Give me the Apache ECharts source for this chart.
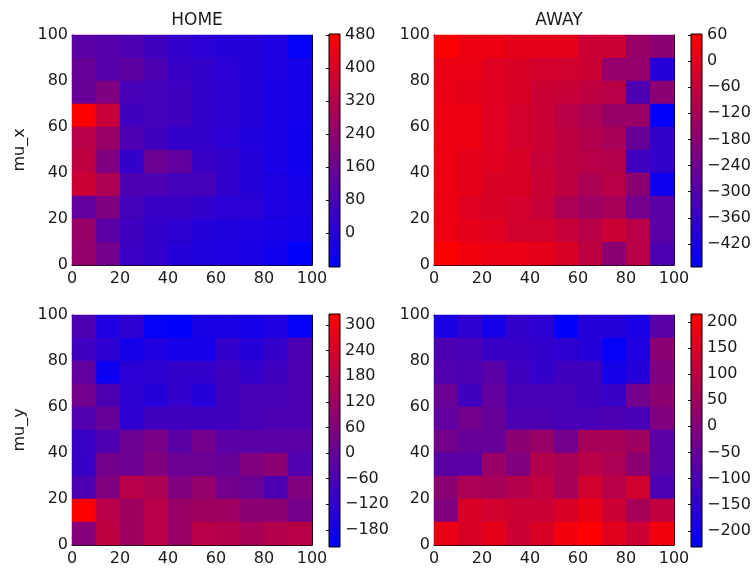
<!DOCTYPE html>
<html>
<head>
<meta charset="utf-8">
<script src="https://cdn.jsdelivr.net/npm/echarts@6/dist/echarts.min.js"></script>
<style>html,body{margin:0;padding:0;background:#fff}#c{width:756px;height:570px}</style>
</head>
<body>
<div id="c"></div>
<script>
// cell bins along each axis (0-10, 10-20, ... 90-100)
const cells = ['0','1','2','3','4','5','6','7','8','9'];
const axisTicks = [0, 20, 40, 60, 80, 100];
const panelTitles = ['HOME', 'AWAY'];
const rowNames = ['mu_x', 'mu_y'];

// rows listed top (90-100) to bottom (0-10), columns x 0-10 ... 90-100
const homeMuX = [
  [116, 104, 88, 59, 31, 14, 3, 3, -14, -71],
  [144, 104, 127, 88, 42, 31, 14, -3, -14, -37],
  [144, 200, 76, 71, 59, 31, 20, 3, -26, -37],
  [483, 359, 59, 71, 59, 31, 20, -3, -26, -37],
  [325, 257, 88, 59, 31, 31, 14, -9, -26, -42],
  [342, 200, 31, 155, 133, 42, 31, 3, -26, -42],
  [370, 302, 88, 88, 71, 71, 31, 3, -14, -37],
  [133, 200, 71, 42, 42, 31, 14, 14, -14, -26],
  [257, 116, 59, 31, 20, 3, -9, -14, -26, -37],
  [246, 172, 48, 31, 3, -9, -14, -26, -42, -82]
];
const awayMuX = [
  [62, 25, 25, 9, 9, 9, -45, -45, -152, -179],
  [19, 19, -2, -18, -29, -34, -45, -163, -163, -393],
  [19, 9, -2, -18, -45, -56, -72, -88, -312, -179],
  [25, 25, -2, -29, -45, -88, -109, -152, -152, -473],
  [25, 25, -2, -29, -45, -72, -98, -125, -259, -366],
  [25, 9, -2, -18, -56, -72, -88, -98, -339, -366],
  [25, 9, -18, -18, -45, -72, -109, -88, -179, -446],
  [25, -2, -18, -29, -56, -109, -141, -125, -232, -286],
  [25, 9, -2, -34, -34, -56, -88, -45, -88, -286],
  [62, 35, 19, 19, 9, -18, -72, -179, -88, -312]
];
const homeMuY = [
  [-56, -154, -122, -209, -220, -165, -165, -176, -154, -209],
  [-84, -122, -176, -154, -176, -176, -111, -138, -111, -56],
  [-13, -193, -127, -122, -111, -111, -84, -111, -84, -56],
  [26, -56, -122, -138, -111, -138, -84, -67, -67, -56],
  [-45, -2, -122, -84, -84, -84, -84, -67, -56, -56],
  [-100, -56, 9, 42, -29, 26, -29, -29, -29, -29],
  [-100, 26, 9, 53, 9, 9, -2, 53, 80, -45],
  [-56, 53, 173, 151, 53, 97, 26, 9, -56, 53],
  [326, 173, 119, 173, 108, 119, 119, 80, 80, 26],
  [64, 190, 119, 173, 108, 173, 162, 135, 162, 173]
];
const awayMuY = [
  [-186, -151, -195, -142, -151, -231, -164, -164, -186, -75],
  [-97, -106, -133, -133, -142, -151, -164, -222, -177, 14],
  [-88, -97, -75, -120, -142, -120, -120, -195, -164, -8],
  [-44, -120, -62, -106, -106, -106, -120, -133, -30, 14],
  [-62, -30, -53, -97, -97, -106, -106, -97, -106, -8],
  [-30, -53, -53, 14, 37, -30, 59, 59, 46, -75],
  [-75, -75, 37, -8, 81, 59, 90, 72, 14, -75],
  [14, 72, 59, 81, 104, 59, 135, 90, 135, -97],
  [-8, 148, 135, 126, 126, 148, 179, 126, 59, 104],
  [179, 148, 170, 126, 148, 193, 215, 162, 126, 193]
];

// colour-bar ranges and tick labels
const homeMuXRange = [-82, 483];
const awayMuXRange = [-473, 62];
const homeMuYRange = [-220, 326];
const awayMuYRange = [-231, 215];
const homeMuXTicks = [0, 80, 160, 240, 320, 400, 480];
const awayMuXTicks = [-420, -360, -300, -240, -180, -120, -60, 0, 60];
const homeMuYTicks = [-180, -120, -60, 0, 60, 120, 180, 240, 300];
const awayMuYTicks = [-200, -150, -100, -50, 0, 50, 100, 150, 200];

const matrices = [homeMuX, awayMuX, homeMuY, awayMuY];
const ranges = [homeMuXRange, awayMuXRange, homeMuYRange, awayMuYRange];
const cbTicks = [homeMuXTicks, awayMuXTicks, homeMuYTicks, awayMuYTicks];

const FONT = 'DejaVu Sans';
const TXT = '#1a1a1a';
const plotPos = [
  {left: 72, top: 35}, {left: 434, top: 35},
  {left: 72, top: 315}, {left: 434, top: 315}
];
const PW = 240, PH = 230;

function toCells(m) {
  const out = [];
  for (let r = 0; r < m.length; r++) {
    for (let c = 0; c < m[r].length; c++) {
      out.push([c, m.length - 1 - r, m[r][c]]);
    }
  }
  return out;
}
const minus = v => String(v).replace('-', '\u2212');

const grid = [], xAxis = [], yAxis = [], series = [], visualMap = [], title = [];
const tickStyle = {show: true, inside: true, length: 5, lineStyle: {color: '#000', width: 1}};
const lineStyle = {show: true, lineStyle: {color: '#000', width: 1}};

for (let i = 0; i < 4; i++) {
  grid.push({left: plotPos[i].left, top: plotPos[i].top, width: PW, height: PH, containLabel: false});
  // category axes (carry the cells)
  xAxis.push({type: 'category', gridIndex: i, data: cells, show: false, position: 'bottom'});
  xAxis.push({type: 'value', gridIndex: i, min: 0, max: 100, interval: 20, position: 'bottom',
    axisLine: lineStyle, axisTick: tickStyle, splitLine: {show: false},
    axisLabel: {fontFamily: FONT, fontSize: 16, color: TXT, margin: 6}});
  xAxis.push({type: 'value', gridIndex: i, min: 0, max: 100, interval: 20, position: 'top',
    axisLine: lineStyle, axisTick: tickStyle, splitLine: {show: false}, axisLabel: {show: false}});
  yAxis.push({type: 'category', gridIndex: i, data: cells, show: false, position: 'left'});
  yAxis.push({type: 'value', gridIndex: i, min: 0, max: 100, interval: 20, position: 'left',
    axisLine: lineStyle, axisTick: tickStyle, splitLine: {show: false},
    axisLabel: {fontFamily: FONT, fontSize: 16, color: TXT, margin: 4},
    name: i % 2 === 0 ? rowNames[i / 2] : '', nameLocation: 'middle', nameRotate: 90, nameGap: 44,
    nameTextStyle: {fontFamily: FONT, fontSize: 16, color: TXT}});
  yAxis.push({type: 'value', gridIndex: i, min: 0, max: 100, interval: 20, position: 'right',
    axisLine: lineStyle, axisTick: tickStyle, splitLine: {show: false}, axisLabel: {show: false}});
  series.push({type: 'heatmap', xAxisIndex: 3 * i, yAxisIndex: 3 * i, data: toCells(matrices[i]),
    emphasis: {disabled: true}, progressive: 0, silent: true});
  visualMap.push({type: 'continuous', seriesIndex: i, dimension: 2, min: ranges[i][0], max: ranges[i][1],
    show: false, inRange: {color: ['#0000ff', '#ff0000']}});
}
// colour bars
for (let j = 0; j < 4; j++) {
  const gi = 4 + j;
  grid.push({left: plotPos[j].left + 257, top: j < 2 ? 34 : 314, width: 11, height: 233,
    show: true, borderColor: '#000', borderWidth: 1,
    backgroundColor: new echarts.graphic.LinearGradient(0, 0, 0, 1, [
      {offset: 0, color: '#ff0000'}, {offset: 1, color: '#0000ff'}])});
  xAxis.push({type: 'value', gridIndex: gi, min: 0, max: 1, show: false});
  yAxis.push({type: 'value', gridIndex: gi, min: ranges[j][0], max: ranges[j][1], position: 'right',
    axisLine: {show: false}, splitLine: {show: false},
    axisTick: {show: true, inside: true, length: 3, lineStyle: {color: '#000'}, customValues: cbTicks[j]},
    axisLabel: {fontFamily: FONT, fontSize: 16, color: TXT, margin: 5, customValues: cbTicks[j],
      formatter: v => minus(v)}});
}
title.push({text: panelTitles[0], left: 192, top: 7, textAlign: 'center',
  textStyle: {fontFamily: FONT, fontSize: 17, fontWeight: 'normal', color: TXT}});
title.push({text: panelTitles[1], left: 554, top: 7, textAlign: 'center',
  textStyle: {fontFamily: FONT, fontSize: 17, fontWeight: 'normal', color: TXT}});

const chart = echarts.init(document.getElementById('c'), null, {renderer: 'canvas'});
chart.setOption({animation: false, backgroundColor: '#fff', title, grid, xAxis, yAxis, visualMap, series});
</script>
</body>
</html>
